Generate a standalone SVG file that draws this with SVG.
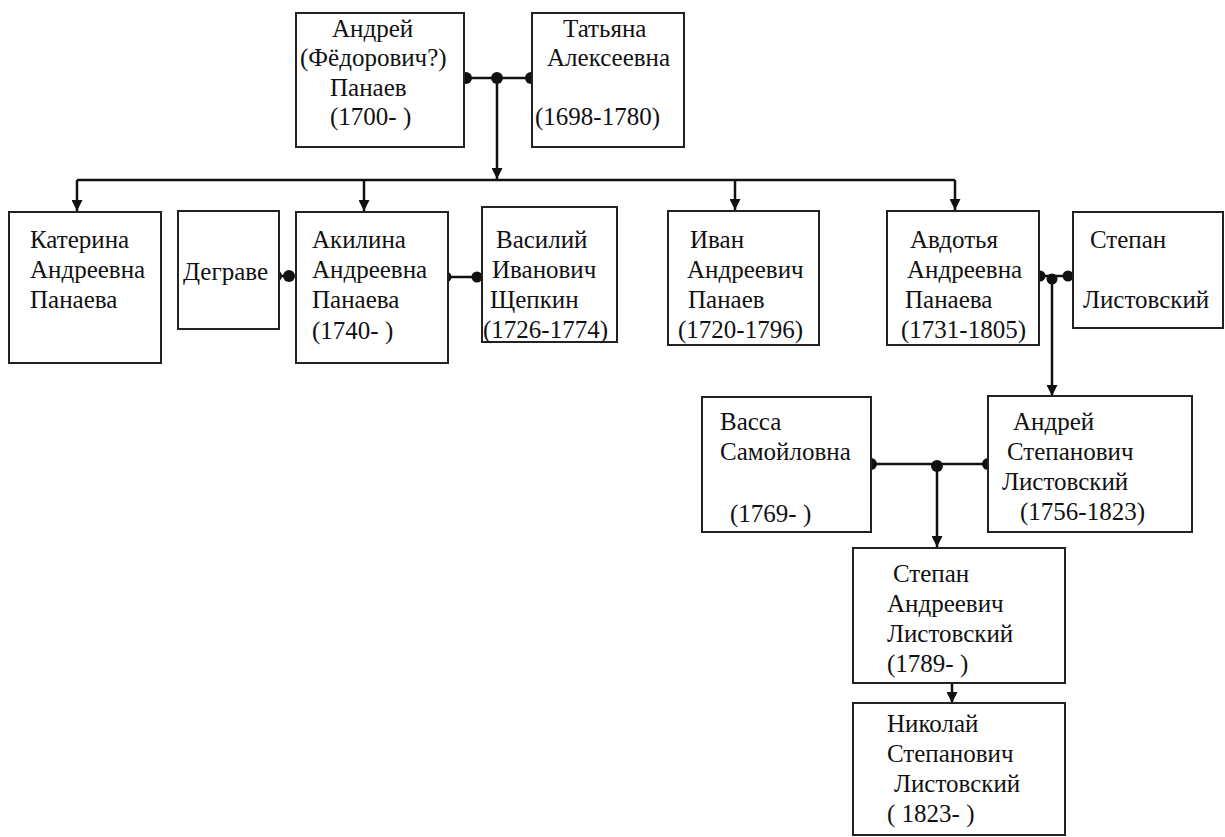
<svg xmlns="http://www.w3.org/2000/svg" width="1225" height="837" viewBox="0 0 1225 837">
<style>
.box{fill:#fff;stroke:#222;stroke-width:2}
.t text{font-family:'Liberation Serif','Times New Roman','DejaVu Serif',serif;font-size:25px;fill:#111}
.ln{fill:none;stroke:#111;stroke-width:2.5}
.dot{fill:#111}
</style>
<defs>
<marker id="arr" viewBox="0 0 10 10" refX="10" refY="5" markerWidth="11" markerHeight="11" markerUnits="userSpaceOnUse" orient="auto">
<path d="M0,0 L10,5 L0,10 Z" fill="#111"/>
</marker>
</defs>
<rect width="1225" height="837" fill="#fff"/>
<g id="connectors">
<path class="ln" d="M466,78 H531"/>
<path class="ln" d="M497,78 V179" marker-end="url(#arr)"/>
<path class="ln" d="M77,180 H955"/>
<path class="ln" d="M77,180 V211" marker-end="url(#arr)"/>
<path class="ln" d="M364,180 V211" marker-end="url(#arr)"/>
<path class="ln" d="M735,180 V210" marker-end="url(#arr)"/>
<path class="ln" d="M955,180 V210" marker-end="url(#arr)"/>
<path class="ln" d="M276,276 H289"/>
<path class="ln" d="M446,277 H477"/>
<path class="ln" d="M1040,276 H1068"/>
<path class="ln" d="M1052,279 V396" marker-end="url(#arr)"/>
<path class="ln" d="M871,464 H988"/>
<path class="ln" d="M937,466 V547" marker-end="url(#arr)"/>
<path class="ln" d="M952,683 V703" marker-end="url(#arr)"/>
<circle class="dot" cx="466" cy="78" r="6"/>
<circle class="dot" cx="497" cy="78" r="6"/>
<circle class="dot" cx="531" cy="78" r="6"/>
<circle class="dot" cx="276" cy="276" r="6"/>
<circle class="dot" cx="289" cy="276" r="6"/>
<circle class="dot" cx="446" cy="277" r="5.5"/>
<circle class="dot" cx="477" cy="277" r="5.5"/>
<circle class="dot" cx="1040" cy="276" r="5.5"/>
<circle class="dot" cx="1052" cy="279" r="5.5"/>
<circle class="dot" cx="1068" cy="276" r="5.5"/>
<circle class="dot" cx="871" cy="464" r="6"/>
<circle class="dot" cx="937" cy="466" r="6"/>
<circle class="dot" cx="988" cy="464" r="6"/>
</g>
<g class="t">
<g id="andrei">
<rect class="box" x="296" y="13" width="168" height="134"/>
<text x="332" y="37">Андрей</text>
<text x="300" y="66">(Фёдорович?)</text>
<text x="330" y="96">Панаев</text>
<text x="330" y="125">(1700- )</text>
</g>
<g id="tatyana">
<rect class="box" x="532" y="13" width="152" height="134"/>
<text x="563" y="37">Татьяна</text>
<text x="547" y="66">Алексеевна</text>
<text x="535" y="125">(1698-1780)</text>
</g>
<g id="katerina">
<rect class="box" x="9" y="212" width="152" height="151"/>
<text x="30" y="248">Катерина</text>
<text x="30" y="278">Андреевна</text>
<text x="30" y="308">Панаева</text>
</g>
<g id="degrave">
<rect class="box" x="178" y="211" width="101" height="118"/>
<text x="183" y="280">Деграве</text>
</g>
<g id="akilina">
<rect class="box" x="296" y="212" width="152" height="151"/>
<text x="312" y="248">Акилина</text>
<text x="312" y="278">Андреевна</text>
<text x="312" y="308">Панаева</text>
<text x="312" y="339">(1740- )</text>
</g>
<g id="vasily">
<rect class="box" x="482" y="207" width="135" height="135"/>
<text x="496" y="248">Василий</text>
<text x="492" y="278">Иванович</text>
<text x="490" y="308">Щепкин</text>
<text x="483" y="338">(1726-1774)</text>
</g>
<g id="ivan">
<rect class="box" x="668" y="211" width="151" height="134"/>
<text x="690" y="248">Иван</text>
<text x="687" y="278">Андреевич</text>
<text x="688" y="308">Панаев</text>
<text x="678" y="338">(1720-1796)</text>
</g>
<g id="avdotya">
<rect class="box" x="887" y="211" width="152" height="134"/>
<text x="910" y="248">Авдотья</text>
<text x="907" y="278">Андреевна</text>
<text x="905" y="308">Панаева</text>
<text x="901" y="338">(1731-1805)</text>
</g>
<g id="stepan">
<rect class="box" x="1073" y="212" width="150" height="116"/>
<text x="1090" y="248">Степан</text>
<text x="1083" y="308">Листовский</text>
</g>
<g id="vassa">
<rect class="box" x="702" y="397" width="169" height="135"/>
<text x="720" y="430">Васса</text>
<text x="720" y="460">Самойловна</text>
<text x="730" y="522">(1769- )</text>
</g>
<g id="andrei-s">
<rect class="box" x="988" y="396" width="204" height="136"/>
<text x="1013" y="430">Андрей</text>
<text x="1007" y="460">Степанович</text>
<text x="1002" y="490">Листовский</text>
<text x="1020" y="520">(1756-1823)</text>
</g>
<g id="stepan-a">
<rect class="box" x="853" y="548" width="212" height="135"/>
<text x="893" y="582">Степан</text>
<text x="887" y="612">Андреевич</text>
<text x="887" y="642">Листовский</text>
<text x="887" y="672">(1789- )</text>
</g>
<g id="nikolai">
<rect class="box" x="853" y="703" width="212" height="132"/>
<text x="887" y="732">Николай</text>
<text x="887" y="762">Степанович</text>
<text x="894" y="792">Листовский</text>
<text x="887" y="822">( 1823- )</text>
</g>
</g>
</svg>
